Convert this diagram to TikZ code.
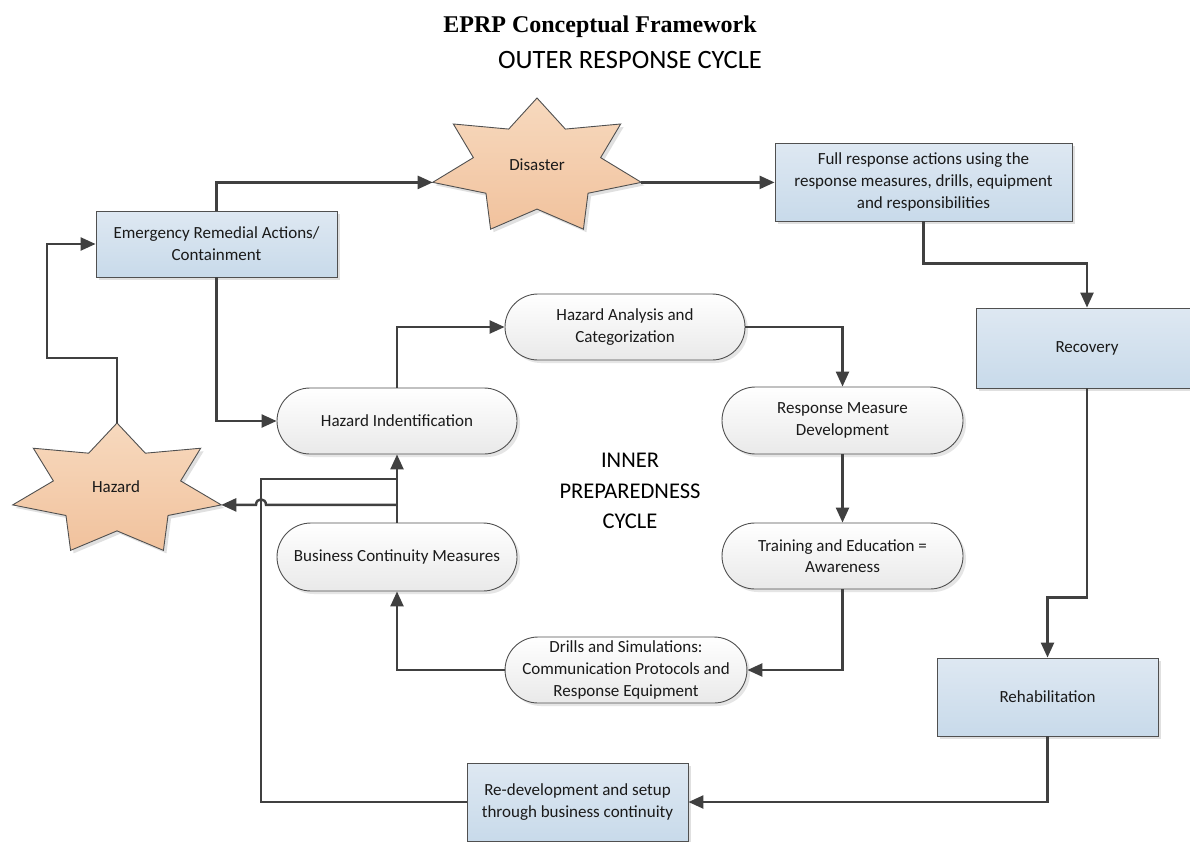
\documentclass[tikz,border=0pt]{standalone}
\usepackage{fontspec}
\setmainfont{Carlito}
\newfontfamily\titlefont{Liberation Serif}
\usetikzlibrary{arrows.meta,shapes.misc,shadows,calc}
\definecolor{linecol}{HTML}{404040}
\definecolor{bordercol}{HTML}{505050}
\definecolor{blueTop}{HTML}{DEE8F2}
\definecolor{blueBot}{HTML}{C8DAEA}
\definecolor{pillBot}{HTML}{E9E9E9}
\definecolor{starTop}{HTML}{F7D9BE}
\definecolor{starBot}{HTML}{F1C29D}
\definecolor{txtcol}{HTML}{1A1A1A}
\tikzset{
  conn/.style={draw=linecol, line width=2.4pt},
  arr/.style={conn, -{Triangle[length=15pt,width=13pt]}},
  lbl/.style={text=txtcol, align=center, font=\fontsize{17}{21.7}\selectfont},
  bluebox/.style={lbl, rectangle, draw=bordercol, line width=0.9pt,
    top color=blueTop, bottom color=blueBot, inner sep=0pt,
    drop shadow={shadow xshift=3pt, shadow yshift=-3pt, fill=black!12, opacity=1}},
  pill/.style={lbl, rounded rectangle, draw=bordercol, line width=0.9pt,
    top color=white, bottom color=pillBot, inner sep=0pt,
    minimum width=240pt, minimum height=66pt,
    drop shadow={shadow xshift=3pt, shadow yshift=-3pt, fill=black!10, opacity=1}},
  starsty/.style={draw=bordercol, line width=0.9pt, top color=starTop, bottom color=starBot,
    preaction={fill=black!12, transform canvas={shift={(3pt,-3pt)}}}}
}
\newcommand\drawmystar[4]{%
  \begin{scope}[shift={(#1,#2)}]
    \path[starsty] (270:#3 and #4)
      \foreach \i in {0,...,6} {
        -- ({270+\i*360/7+360/14}:{0.61*#3} and {0.61*#4})
        -- ({270+(\i+1)*360/7}:#3 and #4) } -- cycle;
  \end{scope}}
\begin{document}
\begin{tikzpicture}[x=1pt,y=-1pt]
\useasboundingbox (0,0) rectangle (1190,841);
\fill[white] (0,0) rectangle (1190,841);

% titles
\node[text=black, font=\titlefont\bfseries\fontsize{24}{28}\selectfont] (title) at (600,27) {EPRP Conceptual Framework};
\node[text=black, font=\fontsize{26.5}{30}\selectfont] (outer) at (630,60) {OUTER RESPONSE CYCLE};
\node[text=black, align=center, font=\fontsize{22.5}{30.5}\selectfont] (inner) at (630,491) {INNER\\PREPAREDNESS\\CYCLE};

% stars
\drawmystar{537}{167}{107}{69}
\node[lbl] (dis) at (537,165) {Disaster};
\coordinate (disL) at (432.7,182.4);
\coordinate (disR) at (641.3,182.4);

\drawmystar{117}{490}{107}{67}
\node[lbl] (haz) at (116,487) {Hazard};
\coordinate (hazT) at (117,423);
\coordinate (hazR) at (221.3,504.9);

% outer boxes
\node[bluebox, minimum width=241pt, minimum height=66pt] (era) at (216.5,244) {Emergency Remedial Actions/\\Containment};
\node[bluebox, minimum width=297pt, minimum height=78pt] (full) at (923.5,182) {Full response actions using the\\response measures, drills, equipment\\and responsibilities};
\node[bluebox, minimum width=222pt, minimum height=80pt] (rec) at (1087,348) {Recovery};
\node[bluebox, minimum width=221pt, minimum height=78pt] (rehab) at (1047.5,697) {Rehabilitation};
\node[bluebox, minimum width=221pt, minimum height=78pt] (redev) at (577.5,802) {Re-development and setup\\through business continuity};

% inner pills
\node[pill] (hi) at (397,421) {Hazard Indentification};
\node[pill, minimum height=68pt] (bcm) at (397,557) {Business Continuity Measures};
\node[pill] (ha) at (625,327) {Hazard Analysis and\\Categorization};
\node[pill, minimum width=241pt, minimum height=67pt] (rmd) at (842.5,420.5) {Response Measure\\Development};
\node[pill, minimum width=241pt] (te) at (842.5,556) {Training and Education =\\Awareness};
\node[pill] (drill) at (626,670) {Drills and Simulations:\\Communication Protocols and\\Response Equipment};

% outer cycle connectors
\draw[arr] (hazT) |- (47,358) |- (era.west);
\draw[arr] (era.north) |- (disL);
\draw[arr] (disR) -- (disR -| full.west);
\draw[arr] (full.south) -- ++(0,42) -| (rec.north);
\draw[arr] (rec.south) -- ++(0,209) -| (rehab.north);
\draw[arr] (rehab.south) |- (redev.east);
\draw[conn] (redev.west) -| (261,479) -- (397,479);
\draw[arr] (era.south) |- (hi.west);

% inner cycle connectors
\draw[arr] (hi.north) |- (ha.west);
\draw[arr] (ha.east) -| (rmd.north);
\draw[arr] (rmd.south) -- (te.north);
\draw[arr] (te.south) |- (drill.east);
\draw[arr] (drill.west) -| (bcm.south);
\draw[arr] (bcm.north) -- (hi.south);
\draw[arr] (bcm.north |- hazR) -- (266,504.9) .. controls (266,497.5) and (256,497.5) .. (256,504.9) -- (hazR);
\end{tikzpicture}
\end{document}
